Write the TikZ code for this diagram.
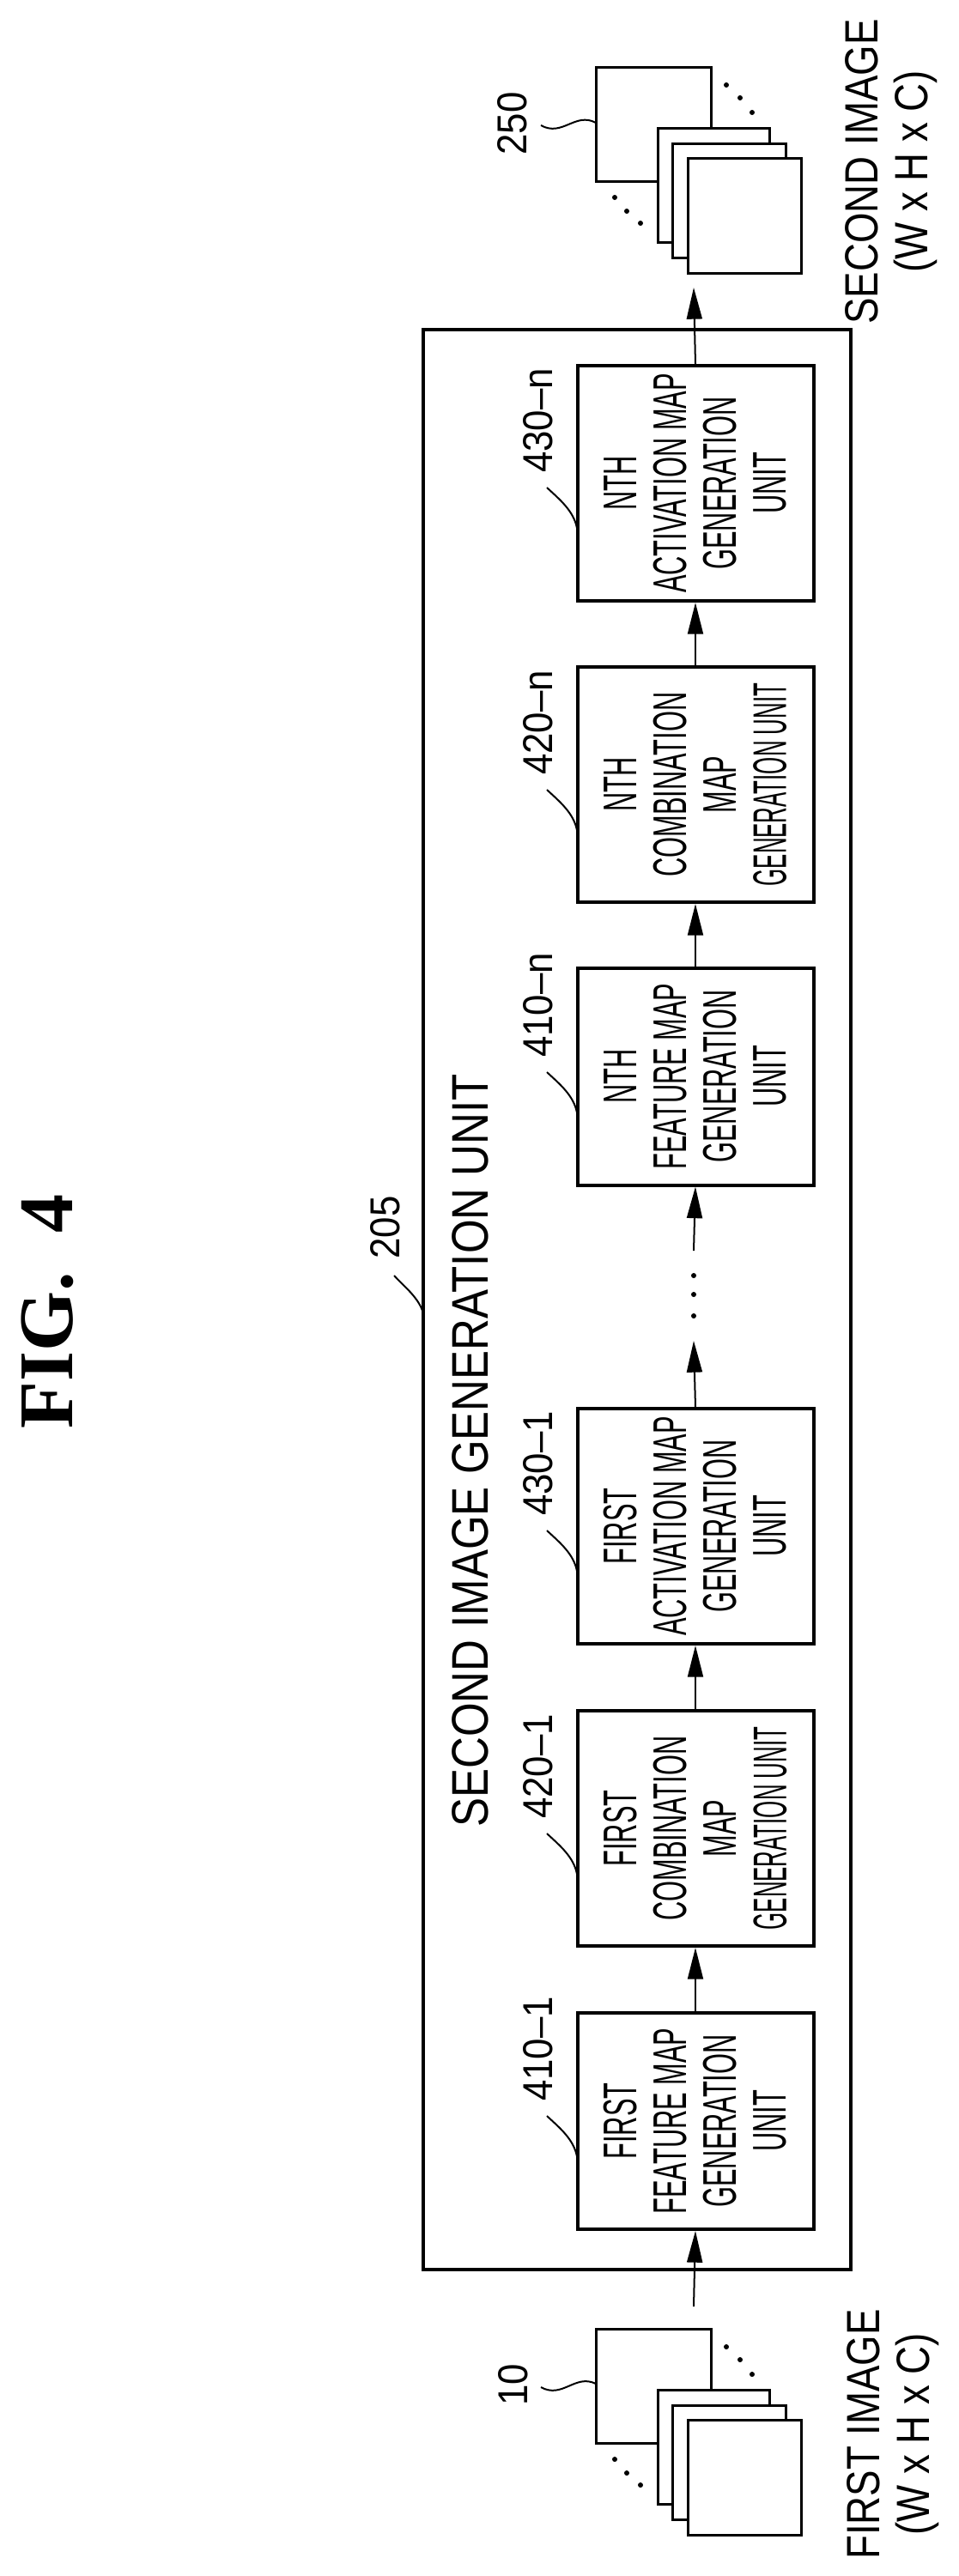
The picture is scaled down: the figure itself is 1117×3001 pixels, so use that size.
\documentclass[tikz,border=0pt]{standalone}
\usepackage{fontspec}
\setmainfont{Liberation Sans}
\newfontfamily\boxfont{Liberation Sans}[FakeStretch=0.56]
\newfontfamily\tightfont{Liberation Sans}[FakeStretch=0.47]
\newfontfamily\titlefont{Liberation Sans}[FakeStretch=0.85]
\newfontfamily\iofont{Liberation Sans}[FakeStretch=0.84]
\newfontfamily\labelfont{Liberation Sans}[FakeStretch=0.9]
\newfontfamily\figfont{Liberation Serif}
\usetikzlibrary{arrows.meta}
\tikzset{
	unit/.style = {draw, line width=1.2pt, rotate=90, align=center, inner sep=0pt,
		minimum height=82.5pt, font=\boxfont\fontsize{16.5}{17.4}\selectfont},
	refnum/.style = {rotate=90, inner sep=0pt, font=\labelfont\fontsize{14.6}{16}\selectfont},
	flow/.style = {line width=0.6pt, -{Triangle[length=11pt,width=5.4pt]}},
	sheet/.style = {draw, fill=white, line width=0.9pt},
	leader/.style = {line width=0.6pt}
}
\newcommand\sheetstack[1]{%
	\begin{scope}[shift={(0,#1)}]
		\draw[sheet] (694,0) rectangle (828,133);
		\draw[sheet] (766,71) rectangle (896,204);
		\draw[sheet] (783,89) rectangle (915,222);
		\draw[sheet] (801,106) rectangle (933,240);
		\foreach \px/\py in {846/21, 862/36, 876/53, 716/152, 730/168, 746/182}
			\fill (\px,\py) circle (3);
	\end{scope}}

\begin{document}
\begin{tikzpicture}[x=0.3pt, y=-0.3pt]
	\useasboundingbox (0,0) rectangle (1117,3001);
	% title
	\node[rotate=90, font=\figfont\bfseries\fontsize{27}{30}\selectfont] (fig) at (55,1528) {FIG.\ \ 4};
	% outer unit
	\node[draw, line width=1.1pt, rotate=90, minimum width=678pt, minimum height=149.4pt] (gen) at (742,1514) {};
	\node[rotate=90, font=\titlefont\fontsize{18}{20}\selectfont] (gentitle) at (548,1690) {SECOND IMAGE GENERATION UNIT};
	\node[refnum] (genref) at (449,1430) {205};
	\draw[leader] (459,1486) .. controls (472,1500) and (488,1512) .. (493,1530);
	% inner units
	\node[unit, minimum width=75.6pt] (feat1) at (810,2471) {FIRST\\FEATURE MAP\\GENERATION\\UNIT};
	\node[unit, minimum width=82.2pt] (comb1) at (810,2130) {FIRST\\COMBINATION\\MAP\\{\tightfont GENERATION UNIT}};
	\node[unit, minimum width=82.2pt] (act1) at (810,1778) {FIRST\\ACTIVATION MAP\\GENERATION\\UNIT};
	\node[unit, minimum width=75.9pt] (featn) at (810,1254) {NTH\\FEATURE MAP\\GENERATION\\UNIT};
	\node[unit, minimum width=82.2pt] (combn) at (810,914) {NTH\\COMBINATION\\MAP\\{\tightfont GENERATION UNIT}};
	\node[unit, minimum width=82.2pt] (actn) at (810,563) {NTH\\ACTIVATION MAP\\GENERATION\\UNIT};
	% reference numbers
	\foreach \txt/\yb in {410\textendash1/2597, 420\textendash1/2268, 430\textendash1/1915, 410\textendash n/1381, 420\textendash n/1052, 430\textendash n/700} {
		\node[refnum] at (627,{\yb-210}) {\txt};
		\draw[leader] (637,{\yb-132}) .. controls (652,{\yb-118}) and (668,{\yb-105}) .. (672,{\yb-85});
	}
	% connections
	\coordinate (in) at (808,2687);
	\coordinate (out) at (808,335);
	\coordinate (gapA) at (808,1562);
	\coordinate (gapB) at (808,1457);
	\draw[flow] (in) -- (feat1.west);
	\draw[flow] (feat1.east) -- (comb1.west);
	\draw[flow] (comb1.east) -- (act1.west);
	\draw[flow] (act1.east) -- (gapA);
	\foreach \dy in {1533,1508,1486} \fill (808,\dy) circle (3);
	\draw[flow] (gapB) -- (featn.west);
	\draw[flow] (featn.east) -- (combn.west);
	\draw[flow] (combn.east) -- (actn.west);
	\draw[flow] (actn.east) -- (out);
	% images
	\sheetstack{2713}
	\sheetstack{78}
	\node[refnum] (firstref) at (598,2778) {10};
	\draw[leader] (630,2781) .. controls (655,2795) and (670,2765) .. (694,2777);
	\node[refnum] (secondref) at (597,144) {250};
	\draw[leader] (630,146) .. controls (655,160) and (670,130) .. (694,143);
	\node[rotate=90, align=center, font=\iofont\fontsize{16.3}{17.2}\selectfont] (firstimg) at (1040,2836) {FIRST IMAGE\\(W x H x C)};
	\node[rotate=90, align=center, font=\iofont\fontsize{16.3}{17.2}\selectfont] (secondimg) at (1038,200) {SECOND IMAGE\\(W x H x C)};
\end{tikzpicture}
\end{document}
